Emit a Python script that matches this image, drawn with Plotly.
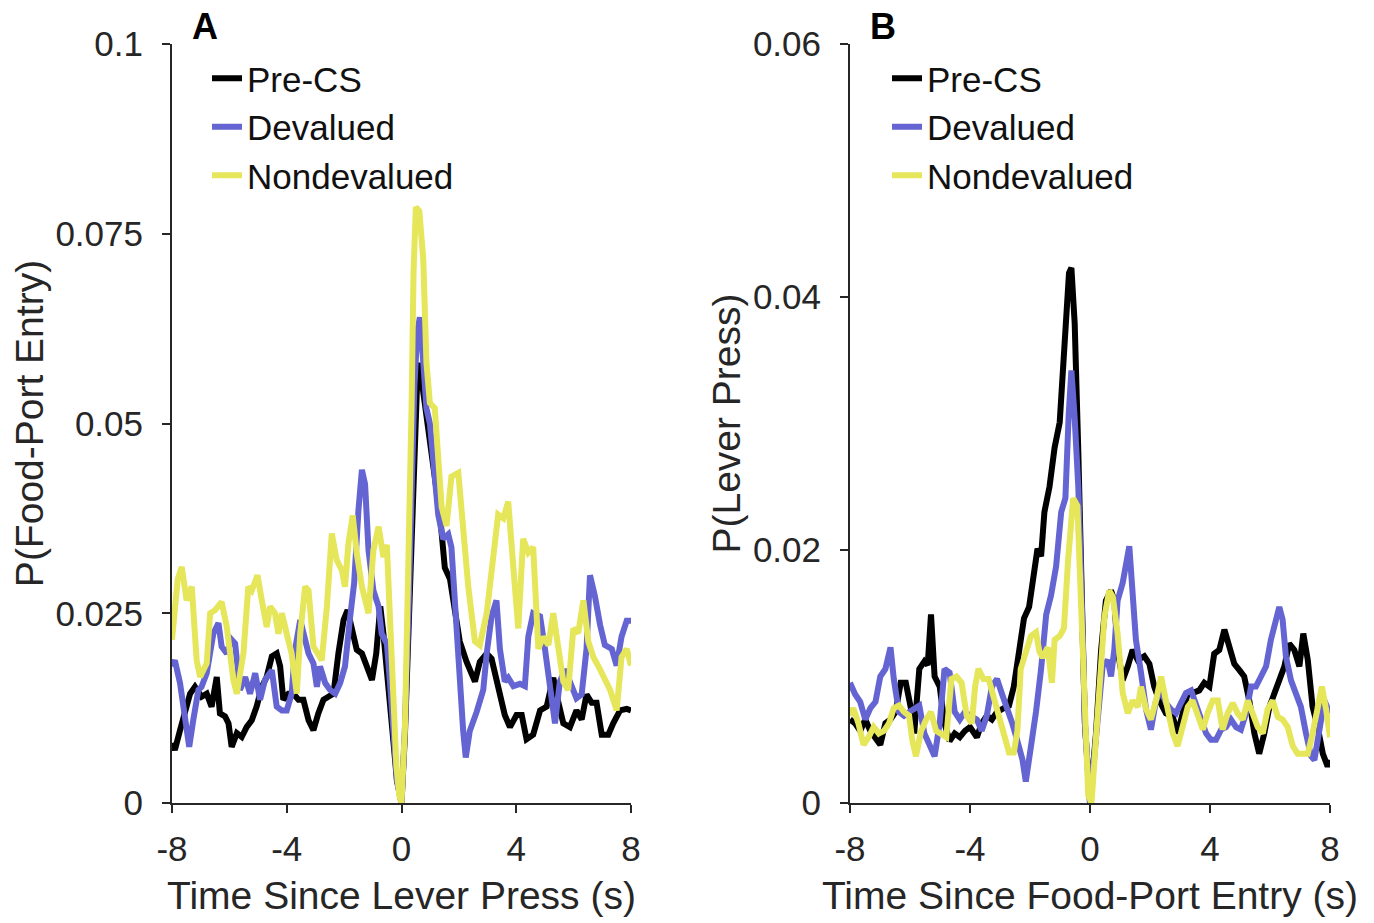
import plotly.graph_objects as go

# ---------------- data ----------------
TIME_TICKS = [-8, -4, 0, 4, 8]
TIME_TICK_TEXT = ["-8", "-4", "0", "4", "8"]
A_Y_TICKS = [0, 0.025, 0.05, 0.075, 0.1]
A_Y_TICK_TEXT = ["0", "0.025", "0.05", "0.075", "0.1"]
B_Y_TICKS = [0, 0.02, 0.04, 0.06]
B_Y_TICK_TEXT = ["0", "0.02", "0.04", "0.06"]

SERIES_NAMES = ["Pre-CS", "Devalued", "Nondevalued"]
SERIES_COLORS = ["#000000", "#6464D2", "#E6E65A"]

# Panel A: P(Food-Port Entry) vs time since lever press, (t, p) pairs
A_PRE = [(-8, 0.0079), (-7.9, 0.007), (-7.72, 0.0096), (-7.55, 0.0122), (-7.37, 0.0144), (-7.2, 0.0153),
         (-6.97, 0.014), (-6.79, 0.0144), (-6.62, 0.0127), (-6.44, 0.0166), (-6.33, 0.0118), (-6.15, 0.0114),
         (-6.03, 0.0105), (-5.92, 0.0074), (-5.74, 0.0092), (-5.57, 0.0087), (-5.4, 0.01), (-5.22, 0.0109),
         (-5.05, 0.0127), (-4.87, 0.0153), (-4.7, 0.0166), (-4.52, 0.0193), (-4.35, 0.0197), (-4.23, 0.018),
         (-4.12, 0.0136), (-3.94, 0.0144), (-3.77, 0.0144), (-3.59, 0.0136), (-3.42, 0.0136), (-3.24, 0.0109),
         (-3.07, 0.0096), (-2.9, 0.0118), (-2.72, 0.0136), (-2.55, 0.014), (-2.37, 0.0144), (-2.2, 0.0197),
         (-2.02, 0.0241), (-1.88, 0.0254), (-1.73, 0.0232), (-1.56, 0.0202), (-1.38, 0.0197), (-1.2, 0.018),
         (-1.03, 0.0162), (-0.88, 0.0197), (-0.74, 0.0259), (-0.63, 0.0223), (-0.51, 0.018), (-0.4, 0.0136),
         (-0.28, 0.008), (-0.16, 0.003), (0, 0), (0.12, 0.009), (0.25, 0.024), (0.35, 0.038), (0.45, 0.05),
         (0.55, 0.056), (0.62, 0.058), (0.72, 0.055), (0.87, 0.051), (1.1, 0.0446), (1.34, 0.038), (1.51, 0.031),
         (1.69, 0.0295), (1.86, 0.025), (2.03, 0.0213), (2.27, 0.0186), (2.56, 0.016), (2.73, 0.0186),
         (2.97, 0.0197), (3.14, 0.019), (3.37, 0.0149), (3.6, 0.0116), (3.78, 0.010), (4.01, 0.0116),
         (4.19, 0.0116), (4.36, 0.0084), (4.59, 0.009), (4.83, 0.0122), (5.06, 0.0127), (5.29, 0.0165),
         (5.47, 0.0132), (5.64, 0.0105), (5.87, 0.010), (6.1, 0.0122), (6.28, 0.011), (6.45, 0.0143),
         (6.63, 0.0132), (6.8, 0.0132), (6.98, 0.009), (7.21, 0.009), (7.38, 0.0105), (7.62, 0.0122),
         (7.85, 0.0124), (8, 0.0122)]

A_DEV = [(-8, 0.018), (-7.9, 0.0188), (-7.72, 0.0158), (-7.55, 0.0114), (-7.4, 0.0074), (-7.26, 0.0109),
         (-7.08, 0.0149), (-6.97, 0.0153), (-6.79, 0.0171), (-6.56, 0.0223), (-6.38, 0.0237), (-6.27, 0.0206),
         (-6.09, 0.0197), (-5.92, 0.0215), (-5.8, 0.021), (-5.63, 0.0149), (-5.45, 0.0166), (-5.28, 0.0144),
         (-5.1, 0.0171), (-4.93, 0.0136), (-4.76, 0.0162), (-4.52, 0.0175), (-4.35, 0.0127), (-4.17, 0.0122),
         (-4.0, 0.0122), (-3.83, 0.0144), (-3.71, 0.0202), (-3.53, 0.0241), (-3.42, 0.0223), (-3.24, 0.0197),
         (-3.07, 0.0184), (-2.95, 0.0153), (-2.84, 0.018), (-2.66, 0.0158), (-2.49, 0.0149), (-2.31, 0.0144),
         (-2.14, 0.0158), (-1.97, 0.018), (-1.79, 0.0245), (-1.65, 0.029), (-1.5, 0.0386), (-1.38, 0.0439),
         (-1.27, 0.042), (-1.15, 0.0333), (-0.98, 0.028), (-0.8, 0.0259), (-0.69, 0.0223), (-0.51, 0.021),
         (-0.4, 0.0158), (-0.28, 0.009), (-0.16, 0.003), (0, 0), (0.12, 0.01), (0.25, 0.026), (0.35, 0.042),
         (0.45, 0.055), (0.55, 0.062), (0.64, 0.064), (0.76, 0.058), (0.87, 0.052), (0.99, 0.050), (1.1, 0.0446),
         (1.28, 0.038), (1.45, 0.0348), (1.63, 0.0354), (1.74, 0.0337), (1.86, 0.0257), (2.03, 0.0165),
         (2.15, 0.0095), (2.24, 0.006), (2.38, 0.0095), (2.62, 0.012), (2.85, 0.0149), (2.97, 0.0197),
         (3.14, 0.0246), (3.31, 0.0267), (3.43, 0.0203), (3.6, 0.016), (3.72, 0.0165), (3.9, 0.0154),
         (4.13, 0.0157), (4.3, 0.0154), (4.42, 0.0219), (4.59, 0.025), (4.83, 0.0246), (5.0, 0.0203),
         (5.17, 0.0154), (5.35, 0.0105), (5.52, 0.016), (5.7, 0.0176), (5.87, 0.016), (6.1, 0.0138),
         (6.28, 0.0143), (6.45, 0.0203), (6.57, 0.030), (6.74, 0.0273), (6.92, 0.0235), (7.09, 0.0208),
         (7.33, 0.0203), (7.5, 0.0181), (7.67, 0.0219), (7.85, 0.024), (8, 0.024)]

A_NON = [(-8, 0.0215), (-7.9, 0.026), (-7.8, 0.0295), (-7.66, 0.0311), (-7.49, 0.0267), (-7.31, 0.0285),
         (-7.14, 0.0188), (-7.02, 0.0166), (-6.79, 0.0184), (-6.67, 0.025), (-6.5, 0.0254), (-6.27, 0.0265),
         (-6.09, 0.0232), (-5.86, 0.0162), (-5.74, 0.0144), (-5.51, 0.0197), (-5.34, 0.0285), (-5.22, 0.028),
         (-5.02, 0.030), (-4.87, 0.0267), (-4.7, 0.0232), (-4.58, 0.0259), (-4.41, 0.025), (-4.29, 0.0223),
         (-4.17, 0.025), (-4.0, 0.0223), (-3.83, 0.0197), (-3.65, 0.0144), (-3.53, 0.0223), (-3.36, 0.0285),
         (-3.24, 0.028), (-3.07, 0.0206), (-2.78, 0.0188), (-2.6, 0.0259), (-2.43, 0.0355), (-2.26, 0.032),
         (-2.08, 0.0307), (-1.97, 0.0285), (-1.85, 0.0342), (-1.7, 0.0379), (-1.56, 0.0329), (-1.38, 0.0285),
         (-1.15, 0.025), (-0.98, 0.0333), (-0.8, 0.0364), (-0.63, 0.0324), (-0.51, 0.034), (-0.42, 0.026),
         (-0.3, 0.014), (-0.18, 0.005), (-0.08, 0.001), (0, 0), (0.12, 0.01), (0.25, 0.03), (0.35, 0.052),
         (0.42, 0.07), (0.5, 0.0785), (0.62, 0.078), (0.7, 0.074), (0.76, 0.0716), (0.87, 0.058), (0.99, 0.0527),
         (1.16, 0.052), (1.28, 0.0446), (1.4, 0.039), (1.57, 0.0365), (1.74, 0.043), (1.98, 0.0435),
         (2.15, 0.0365), (2.33, 0.0284), (2.56, 0.0213), (2.73, 0.0208), (2.97, 0.025), (3.2, 0.0327),
         (3.37, 0.038), (3.55, 0.0375), (3.72, 0.0397), (3.9, 0.031), (4.07, 0.023), (4.24, 0.0348),
         (4.42, 0.033), (4.59, 0.0337), (4.77, 0.0203), (4.94, 0.0219), (5.12, 0.0208), (5.29, 0.025),
         (5.47, 0.0203), (5.64, 0.016), (5.81, 0.0149), (5.99, 0.023), (6.16, 0.0224), (6.34, 0.0267),
         (6.51, 0.0213), (6.69, 0.0192), (6.92, 0.0176), (7.27, 0.0149), (7.5, 0.0122), (7.67, 0.0192),
         (7.85, 0.0203), (8, 0.0181)]

# Panel B: P(Lever Press) vs time since food-port entry, (t, p) pairs
B_PRE = [(-8, 0.0066), (-7.83, 0.0063), (-7.66, 0.0057), (-7.49, 0.0066), (-7.32, 0.0057), (-7.15, 0.0052),
         (-6.99, 0.0046), (-6.82, 0.0063), (-6.65, 0.0066), (-6.48, 0.0072), (-6.31, 0.0095), (-6.14, 0.0095),
         (-5.97, 0.0075), (-5.86, 0.0055), (-5.69, 0.0106), (-5.52, 0.0112), (-5.41, 0.0109), (-5.3, 0.0149),
         (-5.18, 0.01), (-5.01, 0.0092), (-4.85, 0.0063), (-4.68, 0.0049), (-4.51, 0.0055), (-4.34, 0.0052),
         (-4.17, 0.0057), (-4.0, 0.006), (-3.77, 0.0052), (-3.61, 0.0063), (-3.44, 0.0069), (-3.27, 0.0066),
         (-3.1, 0.0072), (-2.87, 0.0075), (-2.7, 0.0077), (-2.54, 0.0092), (-2.37, 0.0118), (-2.2, 0.0146),
         (-2.03, 0.0155), (-1.86, 0.0187), (-1.75, 0.0201), (-1.63, 0.0195), (-1.52, 0.023), (-1.35, 0.025),
         (-1.18, 0.0281), (-1.01, 0.0301), (-0.9, 0.035), (-0.79, 0.0379), (-0.7, 0.0419), (-0.62, 0.0423),
         (-0.51, 0.0379), (-0.39, 0.0278), (-0.28, 0.0164), (-0.17, 0.0063), (0, 0), (0.2, 0.0055),
         (0.37, 0.0121), (0.53, 0.016), (0.7, 0.0168), (0.81, 0.016), (0.92, 0.0121), (1.09, 0.0097),
         (1.26, 0.0108), (1.42, 0.0121), (1.59, 0.0113), (1.81, 0.0116), (1.98, 0.011), (2.14, 0.0092),
         (2.31, 0.0081), (2.53, 0.0071), (2.76, 0.0068), (2.92, 0.0055), (3.09, 0.0071), (3.26, 0.0087),
         (3.42, 0.0087), (3.64, 0.0089), (3.81, 0.0095), (3.98, 0.0092), (4.14, 0.0118), (4.31, 0.0121),
         (4.48, 0.0137), (4.64, 0.0124), (4.81, 0.011), (4.98, 0.0105), (5.14, 0.01), (5.31, 0.0081),
         (5.48, 0.0055), (5.64, 0.0039), (5.81, 0.0055), (5.98, 0.0076), (6.14, 0.0087), (6.31, 0.0097),
         (6.48, 0.0108), (6.64, 0.0126), (6.81, 0.0121), (6.98, 0.0108), (7.11, 0.0134), (7.26, 0.0113),
         (7.42, 0.0076), (7.59, 0.006), (7.76, 0.0039), (7.92, 0.0029), (8, 0.0034)]

B_DEV = [(-8, 0.0095), (-7.83, 0.0086), (-7.66, 0.008), (-7.49, 0.0066), (-7.32, 0.0075), (-7.15, 0.008),
         (-6.99, 0.01), (-6.82, 0.0106), (-6.65, 0.0123), (-6.54, 0.0098), (-6.37, 0.0072), (-6.2, 0.0069),
         (-6.03, 0.0072), (-5.86, 0.0075), (-5.69, 0.0077), (-5.52, 0.0055), (-5.35, 0.0046), (-5.18, 0.0037),
         (-5.01, 0.0063), (-4.85, 0.0106), (-4.68, 0.0103), (-4.51, 0.0072), (-4.34, 0.0066), (-4.17, 0.0072),
         (-4.0, 0.0069), (-3.77, 0.0066), (-3.61, 0.0057), (-3.44, 0.0069), (-3.27, 0.0092), (-3.1, 0.0098),
         (-2.93, 0.0086), (-2.76, 0.0075), (-2.59, 0.0063), (-2.42, 0.0049), (-2.25, 0.0034), (-2.14, 0.0017),
         (-1.97, 0.0043), (-1.8, 0.0072), (-1.63, 0.0106), (-1.46, 0.0149), (-1.3, 0.0164), (-1.13, 0.0187),
         (-0.96, 0.023), (-0.82, 0.0241), (-0.71, 0.0307), (-0.62, 0.0342), (-0.51, 0.0304), (-0.39, 0.025),
         (-0.28, 0.0164), (-0.17, 0.0063), (0, 0), (0.2, 0.0055), (0.42, 0.0108), (0.59, 0.0113), (0.7, 0.01),
         (0.81, 0.0121), (0.92, 0.016), (1.09, 0.0174), (1.2, 0.0187), (1.31, 0.0203), (1.42, 0.0166),
         (1.53, 0.0129), (1.7, 0.0103), (1.87, 0.0074), (2.03, 0.0058), (2.2, 0.0081), (2.37, 0.0089),
         (2.53, 0.0079), (2.7, 0.0074), (2.87, 0.0071), (3.03, 0.0079), (3.2, 0.0087), (3.37, 0.0089),
         (3.53, 0.0079), (3.7, 0.0066), (3.87, 0.0055), (4.03, 0.005), (4.2, 0.005), (4.37, 0.0058),
         (4.53, 0.006), (4.7, 0.0066), (4.87, 0.006), (5.03, 0.0058), (5.2, 0.0071), (5.37, 0.0092),
         (5.53, 0.0092), (5.7, 0.01), (5.87, 0.0108), (6.03, 0.0129), (6.2, 0.0145), (6.31, 0.0155),
         (6.42, 0.0145), (6.53, 0.0116), (6.7, 0.0097), (6.87, 0.0087), (7.03, 0.0076), (7.2, 0.0055),
         (7.37, 0.0037), (7.48, 0.0034), (7.64, 0.0055), (7.81, 0.0081), (8, 0.0071)]

B_NON = [(-8, 0.0069), (-7.89, 0.0075), (-7.72, 0.0063), (-7.55, 0.0046), (-7.38, 0.0052), (-7.21, 0.006),
         (-7.04, 0.0055), (-6.87, 0.0057), (-6.7, 0.0063), (-6.54, 0.0075), (-6.37, 0.0077), (-6.2, 0.0072),
         (-6.03, 0.0069), (-5.92, 0.0049), (-5.8, 0.0037), (-5.63, 0.0057), (-5.46, 0.0066), (-5.3, 0.0072),
         (-5.13, 0.0057), (-4.96, 0.0055), (-4.79, 0.0052), (-4.62, 0.0098), (-4.45, 0.01), (-4.28, 0.0095),
         (-4.11, 0.0069), (-3.94, 0.0063), (-3.83, 0.0092), (-3.72, 0.0106), (-3.55, 0.0098), (-3.38, 0.0098),
         (-3.21, 0.0083), (-3.04, 0.0072), (-2.87, 0.0055), (-2.7, 0.004), (-2.54, 0.004), (-2.42, 0.0057),
         (-2.31, 0.0106), (-2.14, 0.012), (-1.97, 0.0132), (-1.8, 0.0135), (-1.69, 0.012), (-1.58, 0.0115),
         (-1.41, 0.0123), (-1.27, 0.0095), (-1.18, 0.0129), (-1.01, 0.0132), (-0.87, 0.0138), (-0.73, 0.0192),
         (-0.56, 0.0241), (-0.42, 0.0235), (-0.3, 0.0164), (-0.19, 0.0077), (-0.06, 0.0006), (0.05, 0),
         (0.26, 0.0081), (0.48, 0.0147), (0.64, 0.0168), (0.76, 0.0163), (0.92, 0.0134), (1.09, 0.0087),
         (1.26, 0.0071), (1.42, 0.0081), (1.59, 0.0076), (1.7, 0.0092), (1.87, 0.0074), (2.03, 0.0066),
         (2.2, 0.0081), (2.37, 0.01), (2.53, 0.0081), (2.76, 0.0055), (2.92, 0.0045), (3.09, 0.006),
         (3.26, 0.0076), (3.42, 0.0081), (3.59, 0.0071), (3.76, 0.0058), (3.92, 0.0071), (4.09, 0.0081),
         (4.26, 0.0081), (4.42, 0.0058), (4.59, 0.0071), (4.76, 0.0079), (4.92, 0.0071), (5.09, 0.0066),
         (5.26, 0.0081), (5.42, 0.0071), (5.59, 0.006), (5.76, 0.0055), (5.92, 0.0074), (6.09, 0.0081),
         (6.26, 0.0068), (6.42, 0.0066), (6.59, 0.006), (6.76, 0.0045), (6.92, 0.0039), (7.09, 0.0039),
         (7.26, 0.0039), (7.42, 0.0055), (7.59, 0.0076), (7.73, 0.0092), (7.87, 0.0074), (8, 0.0052)]

# ---------------- figure ----------------
W, H = 1374, 923
FONT = "Liberation Sans, Arial, Helvetica, sans-serif"
AX_COLOR = "#262626"
TICK_SIZE = 35
TITLE_SIZE = 39

fig = go.Figure()

panels = [
    ("x", "y", "legend", [A_PRE, A_DEV, A_NON]),
    ("x2", "y2", "legend2", [B_PRE, B_DEV, B_NON]),
]
for xa, ya, leg, series in panels:
    for name, color, pts in zip(SERIES_NAMES, SERIES_COLORS, series):
        fig.add_trace(go.Scatter(
            x=[p[0] for p in pts], y=[p[1] for p in pts],
            mode="lines", name=name, xaxis=xa, yaxis=ya, legend=leg,
            line=dict(color=color, width=6),
        ))

def xaxis_style(domain, title, anchor):
    return dict(
        domain=domain, anchor=anchor, range=[-8, 8], automargin=False,
        tickmode="array", tickvals=TIME_TICKS, ticktext=TIME_TICK_TEXT,
        ticks="outside", ticklen=8, tickwidth=2, tickcolor=AX_COLOR,
        showline=True, linewidth=2, linecolor=AX_COLOR,
        showgrid=False, zeroline=False, ticklabelstandoff=6,
        tickfont=dict(family=FONT, size=TICK_SIZE, color=AX_COLOR),
        title=dict(text=title, font=dict(family=FONT, size=TITLE_SIZE, color=AX_COLOR), standoff=15),
    )

def yaxis_style(domain, rng, tickvals, ticktext, title, anchor):
    return dict(
        domain=domain, anchor=anchor, range=rng, automargin=False,
        tickmode="array", tickvals=tickvals, ticktext=ticktext,
        ticks="outside", ticklen=8, tickwidth=2, tickcolor=AX_COLOR,
        showline=True, linewidth=2, linecolor=AX_COLOR,
        showgrid=False, zeroline=False, ticklabelstandoff=12,
        tickfont=dict(family=FONT, size=TICK_SIZE, color=AX_COLOR),
        title=dict(text=title, font=dict(family=FONT, size=TITLE_SIZE, color=AX_COLOR), standoff=0),
    )

ydom = [120 / H, 879 / H]
legend_common = dict(
    xanchor="left", yanchor="top", bgcolor="rgba(0,0,0,0)", borderwidth=0,
    font=dict(family=FONT, size=TICK_SIZE, color="#111111"),
    itemwidth=30, tracegroupgap=0,
)

fig.update_layout(
    width=W, height=H,
    margin=dict(l=0, r=0, t=0, b=0, autoexpand=False),
    paper_bgcolor="white", plot_bgcolor="white",
    showlegend=True,
    xaxis=xaxis_style([172 / W, 631 / W], "Time Since Lever Press (s)", "y"),
    yaxis=yaxis_style(ydom, [0, 0.1], A_Y_TICKS, A_Y_TICK_TEXT, "P(Food-Port Entry)", "x"),
    xaxis2=xaxis_style([850 / W, 1330 / W], "Time Since Food-Port Entry (s)", "y2"),
    yaxis2=yaxis_style(ydom, [0, 0.06], B_Y_TICKS, B_Y_TICK_TEXT, "P(Lever Press)", "x2"),
    legend=dict(x=207 / W, y=1 - 49 / H, **legend_common),
    legend2=dict(x=887 / W, y=1 - 49 / H, **legend_common),
    annotations=[
        dict(text="<b>A</b>", x=205 / W, y=1 - 27 / H, xref="paper", yref="paper",
             xanchor="center", yanchor="middle",
             showarrow=False, font=dict(family=FONT, size=36, color="#000000")),
        dict(text="<b>B</b>", x=883 / W, y=1 - 27 / H, xref="paper", yref="paper",
             xanchor="center", yanchor="middle",
             showarrow=False, font=dict(family=FONT, size=36, color="#000000")),
    ],
)

fig.write_html("out.html")
